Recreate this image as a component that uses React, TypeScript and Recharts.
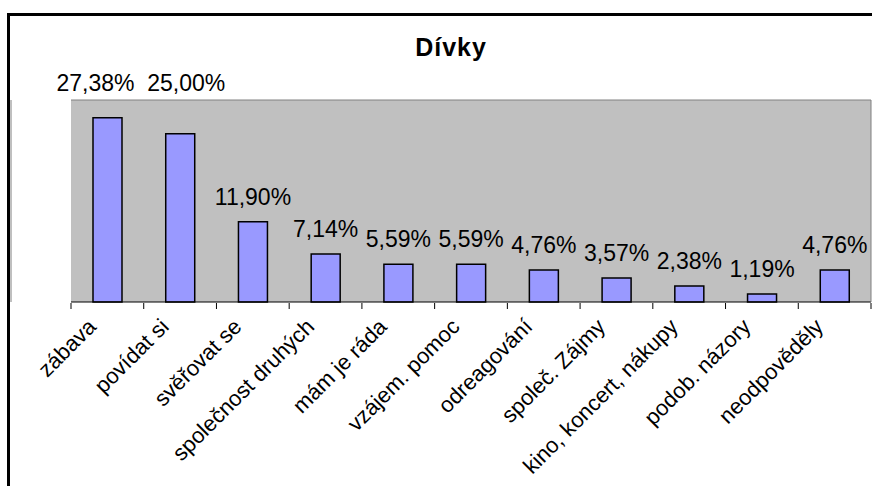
import React from 'react';
import { BarChart, Bar, XAxis, YAxis, CartesianGrid, LabelList } from 'recharts';

const categories = [
  'zábava',
  'povídat si',
  'svěřovat se',
  'společnost druhých',
  'mám je ráda',
  'vzájem. pomoc',
  'odreagování',
  'společ. Zájmy',
  'kino, koncert, nákupy',
  'podob. názory',
  'neodpověděly',
];
const values = [27.38, 25.0, 11.9, 7.14, 5.59, 5.59, 4.76, 3.57, 2.38, 1.19, 4.76];
const yDomain = [0, 30];
const chartTitle = 'Dívky';

const data = categories.map((name, i) => ({ name, value: values[i] }));

const FONT = '"Liberation Sans", Arial, sans-serif';
const liftedNudge: Record<number, number> = { 0: -12, 1: 6 };

const fmt = (v: number) => v.toFixed(2).replace('.', ',') + '%';

const XTick = (props: any) => {
  const { x, y, payload, width, index } = props;
  const half =
    payload && typeof payload.offset === 'number' && payload.offset > 0
      ? payload.offset
      : width / categories.length / 2;
  const last = index === categories.length - 1;
  return (
    <g>
      <line x1={x - half} x2={x - half} y1={y} y2={y + 6} stroke="#000" strokeWidth={1} />
      {last && <line x1={x + half} x2={x + half} y1={y} y2={y + 6} stroke="#000" strokeWidth={1} />}
      <g transform={`translate(${x - 10},${y + 25})`}>
        <text transform="rotate(-45)" textAnchor="end" fontSize={22} fontFamily={FONT} fill="#000">
          {payload.value}
        </text>
      </g>
    </g>
  );
};

const ValueLabel = (props: any) => {
  const { x, y, width, height, value, index } = props;
  const bottom = y + height;
  const pxPerUnit = height / value;
  const plotTop = bottom - yDomain[1] * pxPerUnit;
  let baseline = y - 17;
  let dx = 0;
  if (baseline < plotTop + 25) {
    baseline = plotTop - 9;
    dx = liftedNudge[index] ?? 0;
  }
  return (
    <text x={x + width / 2 + dx} y={baseline} textAnchor="middle" fontSize={23} fontFamily={FONT} fill="#000">
      {fmt(value)}
    </text>
  );
};

export default function App() {
  return (
    <div style={{ position: 'fixed', left: 0, top: 0, width: 872, height: 486, overflow: 'hidden', background: '#fff' }}>
      <div
        style={{
          position: 'absolute',
          left: 7,
          top: 13,
          width: 900,
          height: 520,
          border: '3px solid #000',
          boxSizing: 'border-box',
        }}
      />
      <div
        style={{
          position: 'absolute',
          left: 0,
          top: 35,
          width: 902,
          textAlign: 'center',
          fontFamily: FONT,
          fontWeight: 'bold',
          fontSize: 25,
          lineHeight: '25px',
          letterSpacing: 1,
          color: '#000',
        }}
      >
        {chartTitle}
      </div>
      <div style={{ position: 'absolute', left: 0, top: 0 }}>
        <BarChart
          width={872}
          height={486}
          data={data}
          margin={{ top: 99, right: 0, bottom: 182, left: 70 }}
          barSize={29}
        >
          <CartesianGrid fill="#C0C0C0" horizontal={false} vertical={false} />
          <XAxis
            xAxisId="cat"
            dataKey="name"
            interval={0}
            height={1}
            tickSize={0}
            tickMargin={0}
            axisLine={false}
            tickLine={false}
            tick={<XTick />}
          />
          <XAxis
            xAxisId="bottomLine"
            dataKey="name"
            height={1}
            tick={false}
            tickLine={false}
            axisLine={{ stroke: '#000' }}
          />
          <XAxis
            xAxisId="top"
            orientation="top"
            dataKey="name"
            height={1}
            tick={false}
            tickLine={false}
            axisLine={{ stroke: '#808080' }}
          />
          <YAxis hide domain={yDomain} />
          <YAxis yAxisId="l" orientation="left" width={1} tick={false} tickLine={false} axisLine={{ stroke: '#808080' }} />
          <YAxis yAxisId="r" orientation="right" width={1} tick={false} tickLine={false} axisLine={{ stroke: '#808080' }} />
          <Bar xAxisId="cat" dataKey="value" fill="#9999FF" stroke="#000" strokeWidth={1.5} isAnimationActive={false}>
            <LabelList dataKey="value" content={<ValueLabel />} />
          </Bar>
        </BarChart>
      </div>
    </div>
  );
}
